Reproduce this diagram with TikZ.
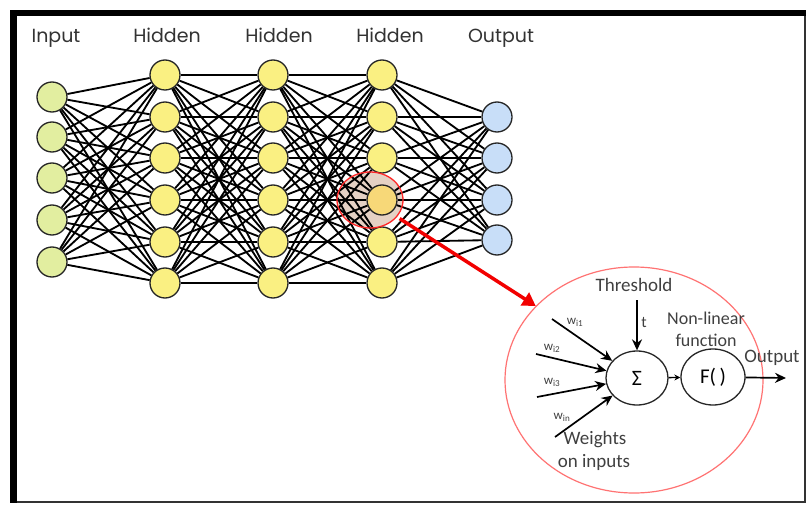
\documentclass[tikz,border=0pt]{standalone}
\usepackage{fontspec}
\usetikzlibrary{shapes.geometric,arrows.meta}
\newfontfamily\gfont{Poppins}
\newfontfamily\cfont{Carlito}
\definecolor{infill}{RGB}{226,238,160}
\definecolor{hidfill}{RGB}{250,240,130}
\definecolor{outfill}{RGB}{200,222,248}
\definecolor{hlfill}{RGB}{170,105,60}
\definecolor{hlnode}{RGB}{247,216,120}
\begin{document}
\begin{tikzpicture}[x=1pt,y=-1pt,
  neuron/.style={circle,draw=black!85,line width=1.3pt,minimum size=30pt,inner sep=0pt},
  inn/.style={neuron,fill=infill},
  hid/.style={neuron,fill=hidfill},
  outn/.style={neuron,fill=outfill},
  conn/.style={line width=1.85pt,black},
  layerlabel/.style={font=\gfont\fontsize{19}{19}\selectfont,anchor=base,text=black!80,inner sep=0pt},
  detail/.style={font=\cfont\fontsize{19}{19}\selectfont,text=black!75,inner sep=0pt},
  wlab/.style={font=\cfont\fontsize{13}{13}\selectfont,text=black!75,inner sep=0pt},
  unit/.style={ellipse,draw=black!85,line width=1.3pt,inner sep=0pt},
  warrow/.style={line width=1.7pt,black,-{Stealth[length=11pt,width=10pt]}}
]
\useasboundingbox (0,0) rectangle (806,505);
\fill[white] (0,0) rectangle (806,505);
% frame
\draw[line width=2pt,black!80] (11,502) -- (805,502) -- (805,13);
\fill[black] (10,10) rectangle (806,16);
\fill[black] (10,10) rectangle (17,503);
% highlight tint (below lines)
\fill[hlfill,opacity=0.3] (370,200) ellipse [x radius=33pt,y radius=28pt];
% layer labels
\node[layerlabel] (lin) at (56,43) {Input};
\node[layerlabel] (lh1) at (167,43) {Hidden};
\node[layerlabel] (lh2) at (279,43) {Hidden};
\node[layerlabel] (lh3) at (390,43) {Hidden};
\node[layerlabel] (lout) at (501,43) {Output};
% nodes
\foreach \y [count=\i] in {97,137,178,220,262} \node[inn] (a\i) at (52,\y) {};
\foreach \y [count=\i] in {75,117,158,200,242,283} \node[hid] (b\i) at (165,\y) {};
\foreach \y [count=\i] in {75,117,158,200,242,283} \node[hid] (c\i) at (273,\y) {};
\foreach \y [count=\i] in {75,117,158} \node[hid] (d\i) at (382,\y) {};
\node[neuron,fill=hlnode] (d4) at (382,200) {};
\foreach \y [count=\i from 5] in {242,283} \node[hid] (d\i) at (382,\y) {};
\foreach \y [count=\i] in {117,158,200,240} \node[outn] (e\i) at (497,\y) {};
% connections
\foreach \i in {1,...,5} \foreach \j in {1,...,6} \draw[conn] (a\i) -- (b\j);
\foreach \i in {1,...,6} \foreach \j in {1,...,6} \draw[conn] (b\i) -- (c\j);
\foreach \i in {1,...,6} \foreach \j in {1,...,6} \draw[conn] (c\i) -- (d\j);
\foreach \i in {1,...,6} \foreach \j in {1,...,4} \draw[conn] (d\i) -- (e\j);
% highlight outline
\node[ellipse,minimum width=66pt,minimum height=56pt,inner sep=0pt,draw=red!85,line width=1.3pt] (hl) at (370,200) {};
% neuron detail
\node[ellipse,minimum width=258pt,minimum height=226pt,inner sep=0pt,draw=red!55,line width=1.2pt] (big) at (634,380) {};
\draw[red!95!black,line width=3.5pt,shorten <=3pt,-{Triangle[length=13pt,width=15pt]}] (hl.-32) -- (big.143);
\node[unit,minimum width=62pt,minimum height=54pt] (sig) at (637,378) {\cfont\fontsize{22}{22}\selectfont Σ};
\node[unit,minimum width=64pt,minimum height=56pt] (fn) at (713,377) {\cfont\fontsize{21}{21}\selectfont F(\,)};
\node[detail] (thr) at (634,285) {Threshold};
\node[detail,font=\cfont\fontsize{18}{18}\selectfont] (nl1) at (706,318) {Non-linear};
\node[detail,font=\cfont\fontsize{18}{18}\selectfont] (nl2) at (706,340) {function};
\node[detail] (outl) at (772,358) {Output};
\node[detail] (wt1) at (595,440) {Weights};
\node[detail] (wt2) at (594,462) {on inputs};
\node[detail,font=\cfont\fontsize{16}{16}\selectfont] (tl) at (644,322) {t};
\node[wlab] (w1) at (575,322) {w\textsubscript{i1}};
\node[wlab] (w2) at (552,348) {w\textsubscript{i2}};
\node[wlab] (w3) at (552,382) {w\textsubscript{i3}};
\node[wlab] (w4) at (562,417) {w\textsubscript{in}};
\coordinate (t0) at (637,300);
\coordinate (s1) at (552,319);
\coordinate (s2) at (536,354);
\coordinate (s3) at (537,397);
\coordinate (s4) at (555,437);
\coordinate (oend) at (786,378);
\draw[warrow] (t0) -- (sig.north);
\draw[warrow] (s1) -- (sig);
\draw[warrow] (s2) -- (sig);
\draw[warrow] (s3) -- (sig);
\draw[warrow] (s4) -- (sig);
\draw[line width=1.4pt,-{Stealth[length=6pt,width=6pt]}] (sig) -- (fn);
\draw[warrow] (fn) -- (oend);
\end{tikzpicture}
\end{document}
